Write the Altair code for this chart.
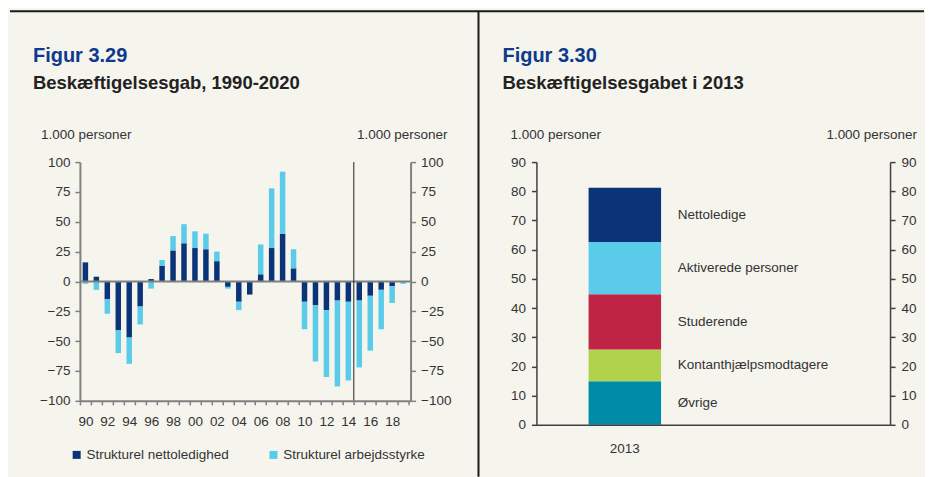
import altair as alt
import pandas as pd

# ---------------- Figur 3.29 data ----------------
years = list(range(1990, 2020))
nettoledighed = [16, 4, -15, -41, -47, -21, 2, 13, 26, 32,
                 28, 27, 17, -4.5, -17, -11, 6, 28, 40, 11,
                 -17, -20, -24, -16, -17, -16, -12, -7, -4, 0]
arbejdsstyrke = [-2, -7, -12, -19, -22, -15, -6, 5, 12, 16,
                 14, 13, 8, -1.5, -7, 0, 25, 50, 52, 16,
                 -23, -47, -56, -72, -66, -56, -46, -33, -14, -2]
series_names = ["Strukturel nettoledighed", "Strukturel arbejdsstyrke"]
left_ticks = [-100, -75, -50, -25, 0, 25, 50, 75, 100]
break_year = [2015]

# ---------------- Figur 3.30 data ----------------
categories = ["Øvrige", "Kontanthjælpsmodtagere", "Studerende",
              "Aktiverede personer", "Nettoledige"]
values_2013 = [14.9, 10.9, 18.9, 17.9, 18.6]
right_ticks = [0, 10, 20, 30, 40, 50, 60, 70, 80, 90]
right_cats = ["2013", " "]

NAVY = "#0b3478"
LIGHT = "#5bcbea"
RED = "#c02444"
GREEN = "#b1d24b"
TEAL = "#008ca9"
BG = "#f5f4ed"
TITLE_BLUE = "#0d3a8c"
TXT = "#333333"
FONT = "Liberation Sans"
FS = 13.5

df_left = pd.DataFrame({
    "year": years * 2,
    "value": nettoledighed + arbejdsstyrke,
    "series": [series_names[0]] * len(years) + [series_names[1]] * len(years),
    "ord": [0] * len(years) + [1] * len(years),
})
df_right = pd.DataFrame({
    "cat": ["2013"] * len(categories),
    "name": categories,
    "value": values_2013,
    "ord": list(range(len(categories))),
})


def txt(text, x, y, size=FS, color=TXT, weight="normal", align="left"):
    return alt.Chart(pd.DataFrame({"t": [text]})).mark_text(
        align=align, baseline="alphabetic", fontSize=size, fontWeight=weight,
        color=color, font=FONT
    ).encode(text="t:N", x=alt.value(x), y=alt.value(y))


def one():
    return alt.Chart(pd.DataFrame({"a": [0]}))


# ---------------- left panel ----------------
axis_common = dict(title=None, grid=False, labelFontSize=FS, labelColor=TXT,
                   labelFont=FONT, zindex=1)
axis_l_left = alt.Axis(values=left_ticks, orient="left", domainColor="#808080",
                       domainWidth=2, tickColor="#808080", tickWidth=1.5,
                       tickSize=5, labelPadding=5, **axis_common)
axis_l_right = alt.Axis(values=left_ticks, orient="right", domainColor="#808080",
                        domainWidth=2, tickColor="#808080", tickWidth=1.5,
                        tickSize=5, labelPadding=5, **axis_common)
axis_l_x = alt.Axis(tickBand="extent", labelAngle=0, labelOverlap=False,
                    labelExpr="datum.value % 2 == 0 ? substring(toString(datum.value), 2, 4) : ''",
                    domainColor="#808080", domainWidth=2, tickColor="#808080",
                    tickWidth=1.5, tickSize=4, labelPadding=10, **axis_common)

# invisible frame fixing the page extent
frame = one().mark_rect(opacity=0).encode(
    x=alt.value(-72), x2=alt.value(845), y=alt.value(-154), y2=alt.value(315))
top_line = one().mark_rule(color="#1a1a1a", strokeWidth=2).encode(
    x=alt.value(-70), x2=alt.value(845), y=alt.value(-151))
divider = one().mark_rule(color="#1a1a1a", strokeWidth=2).encode(
    x=alt.value(399), y=alt.value(-151), y2=alt.value(315))

bars = alt.Chart(df_left).mark_bar(width={"band": 0.5}).encode(
    x=alt.X("year:O", scale=alt.Scale(paddingInner=0, paddingOuter=0.09, align=0),
            axis=axis_l_x),
    y=alt.Y("value:Q", stack="zero", scale=alt.Scale(domain=[-100, 100], nice=False),
            axis=axis_l_left),
    color=alt.Color("series:N",
                    scale=alt.Scale(domain=series_names, range=[NAVY, LIGHT]),
                    legend=alt.Legend(title=None, orient="none", legendX=-10, legendY=286,
                                      direction="horizontal", symbolType="square",
                                      symbolSize=64, symbolStrokeWidth=0,
                                      labelFontSize=FS, labelColor=TXT, labelFont=FONT,
                                      labelOffset=3, columnPadding=37, padding=0,
                                      labelLimit=300, zindex=1)),
    order=alt.Order("ord:Q"),
)
zero = alt.Chart(pd.DataFrame({"z": [0]})).mark_rule(color="#808080", strokeWidth=2).encode(
    y=alt.Y("z:Q", axis=axis_l_right))
vline = alt.Chart(pd.DataFrame({"year": break_year})).mark_rule(
    color="#222222", strokeWidth=1).encode(x=alt.X("year:O", bandPosition=0))

left = alt.layer(
    frame, top_line, divider, bars, zero, vline,
    txt("Figur 3.29", -47, -100.3, 20, TITLE_BLUE, "bold"),
    txt("Beskæftigelsesgab, 1990-2020", -47, -72.7, 18.5, "#222222", "bold"),
    txt("1.000 personer", -39, -23.5),
    txt("1.000 personer", 368, -23.5, align="right"),
).resolve_scale(y="shared").resolve_axis(y="independent").properties(width=331, height=239)

# ---------------- right panel ----------------
axis_r_left = alt.Axis(values=right_ticks, orient="left", domainColor="#404040",
                       domainWidth=1.5, tickColor="#404040", tickWidth=1.5,
                       tickSize=5, labelPadding=6, **axis_common)
axis_r_right = alt.Axis(values=right_ticks, orient="right", domainColor="#404040",
                        domainWidth=1.5, tickColor="#404040", tickWidth=1.5,
                        tickSize=5, labelPadding=6, **axis_common)
axis_r_x = alt.Axis(labelAngle=0, ticks=False, tickSize=0, labelPadding=17,
                    domainColor="#404040", domainWidth=1.5, **axis_common)

base_r = alt.Chart(df_right).transform_stack(
    stack="value", as_=["lo", "hi"], groupby=["cat"],
    sort=[alt.SortField("ord", order="ascending")])

bars_r = base_r.mark_bar(width={"band": 0.41}).encode(
    x=alt.X("cat:N", scale=alt.Scale(domain=right_cats, paddingInner=0, paddingOuter=0),
            axis=axis_r_x),
    y=alt.Y("lo:Q", scale=alt.Scale(domain=[0, 90], nice=False), axis=axis_r_left),
    y2="hi:Q",
    color=alt.Color("name:N",
                    scale=alt.Scale(domain=categories, range=[TEAL, GREEN, RED, LIGHT, NAVY]),
                    legend=None),
)
labels_r = base_r.transform_calculate(mid="(datum.lo + datum.hi) / 2").mark_text(
    align="left", baseline="middle", dx=53, fontSize=FS, color=TXT, font=FONT
).encode(x=alt.X("cat:N"), y=alt.Y("mid:Q", axis=axis_r_right), text="name:N")

right = alt.layer(
    bars_r, labels_r,
    txt("Figur 3.30", -34, -100.3, 20, TITLE_BLUE, "bold"),
    txt("Beskæftigelsesgabet i 2013", -34, -72.7, 18.5, "#222222", "bold"),
    txt("1.000 personer", -26, -23.5),
    txt("1.000 personer", 381, -23.5, align="right"),
).resolve_scale(y="shared").resolve_axis(y="independent").properties(width=354, height=263)

chart = alt.hconcat(left, right, spacing=126, bounds="flush").resolve_scale(
    color="independent", x="independent", y="independent"
).properties(
    padding={"left": 0, "top": 0, "right": 0, "bottom": 0}, background=BG
).configure(font=FONT).configure_view(stroke=None)

chart.save("out.html", embed_options={"renderer": "svg", "actions": False})
